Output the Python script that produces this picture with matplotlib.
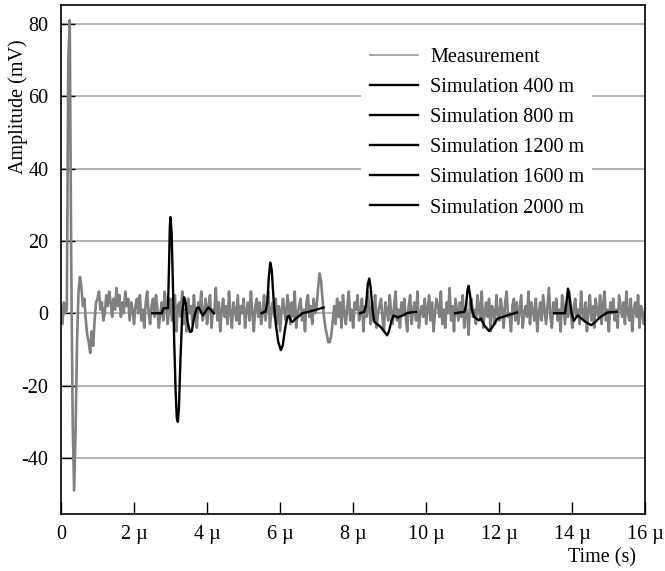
import numpy as np
import matplotlib
matplotlib.use("Agg")
import matplotlib.pyplot as plt

plt.rcParams['font.family'] = ['Liberation Serif', 'DejaVu Serif']
plt.rcParams['axes.unicode_minus'] = False

# measurement, sampled every 0.04 us from 0 to 16 us (values in mV), one row per us
meas_dt = 0.04
meas_mv = [
    2, -3, 3, 0, 1, 70, 81, 15, -30, -49, -32, -8, 6, 10, 7, 2, 4, -2, -6, -8, -11, -5, -9, -2, 3,
    4, 6, 1, 3, -2, 0, 5, 2, 6, 3, -1, 4, 1, 7, 2, 5, -1, 3, 0, 6, 2, 4, -2, 3, 1,
    -3, 2, 4, 0, 5, -2, 1, -4, 3, 6, 0, -3, 2, 4, -1, 5, 1, -4, 0, 3, -2, 6, 2, -3, 1,
    4, -2, 0, 5, -5, 2, 3, -1, 6, -3, 1, -5, 4, 0, 2, -3, 5, -1, -4, 3, 1, 6, -2, 0, 4,
    -3, 2, 5, -4, 1, 0, 7, -2, 3, -5, 1, 4, -1, 2, -3, 6, 0, -4, 3, 1, -2, 5, -3, 2, 0,
    4, -4, 1, 3, -2, 6, 0, -5, 2, 4, -1, 3, -3, 0, 5, -2, 2, 6, -4, 1, 3, -1, 4, -3, 2,
    -5, 1, 4, 0, -2, 5, 2, -3, 3, -1, 6, -4, 0, 2, 4, -2, 1, -5, 3, 5, -1, 2, -3, 4, 0,
    2, 7, 11, 9, 4, -1, -4, -6, -8, -8, -6, -2, 2, -3, 4, -1, 3, -4, 5, 0, -3, 2, 6, -2, 1,
    -4, 3, 1, 5, -2, 0, 4, -5, 2, -1, 6, 1, -3, 3, -2, 5, -4, 0, 2, 4, -1, -5, 3, 1, -2,
    5, 0, -3, 2, 6, -2, 1, -4, 3, 0, 4, -1, -5, 2, 5, -3, 1, 3, -2, 6, -4, 0, 2, -1, 4,
    -3, 1, 5, -2, 3, -5, 0, 4, 2, -1, 6, -3, 1, -4, 3, 0, 7, -2, 2, -5, 4, 1, -2, 3, -1,
    5, -4, 2, 0, -6, 3, 4, -1, 1, -3, 5, 2, -2, 6, -4, 0, 3, -1, 4, -5, 2, 1, -3, 5, 0,
    -2, 4, 1, -4, 3, 6, -1, 0, -5, 2, 4, -2, 3, -3, 1, 5, -4, 0, 2, -1, 6, -3, 3, 1, -2,
    4, -5, 0, 3, -2, 5, 1, -3, 2, 7, -1, -4, 3, 0, 4, -2, 1, -5, 5, 2, -3, 3, -1, 6, 0,
    -4, 2, 4, -1, 1, -3, 6, 0, -2, 3, -5, 1, 5, -2, 2, -4, 4, 0, -1, 5, -3, 2, 6, -2, 1,
    -5, 3, 0, 4, -2, 1, -4, 5, 2, -1, 3, -3, 6, 0, -2, 4, -5, 1, 3, -1, 5, -4, 2, 0, -3,
    2,
]

# simulated pulses (time in us, amplitude in mV)
sim400_t = [2.50, 2.76, 2.80, 2.93, 2.96, 2.98, 3.00, 3.03, 3.06, 3.10, 3.14, 3.17, 3.20,
            3.23, 3.27, 3.32, 3.37, 3.41, 3.47, 3.53, 3.58, 3.65, 3.72, 3.77, 3.83, 3.88,
            3.95, 4.03, 4.10, 4.18]
sim400_mv = [0, 0, 1.4, 1.4, 14, 24, 26.6, 22, 10, -8, -22, -29, -30,
             -26, -13, 0, 4.4, 3, -2.5, -5.2, -5, -1, 1.4, 1.6, 0.4, -0.6,
             0.4, 1.6, 1, 0]

sim800_t = [5.49, 5.60, 5.65, 5.69, 5.73, 5.77, 5.82, 5.88, 5.95, 6.02, 6.07, 6.14, 6.20,
            6.24, 6.30, 6.34, 6.41, 6.48, 6.61, 6.85, 7.00, 7.19]
sim800_mv = [0, 0.5, 3, 10, 14, 12, 4, -3, -8, -10.2, -9, -4, -1,
             -0.7, -2.2, -2.4, -1.6, -1.1, 0, 0.6, 1.0, 1.6]

sim1200_t = [8.19, 8.30, 8.35, 8.40, 8.44, 8.48, 8.53, 8.58, 8.72, 8.79, 8.86, 8.93, 8.98,
             9.05, 9.11, 9.22, 9.36, 9.49, 9.72]
sim1200_mv = [0, 0.4, 2, 8, 9.6, 7, 1, -2.4, -3.5, -4.2, -5.2, -6.1, -5,
              -2, -0.6, -1.2, -0.6, 0.1, 0.4]

sim1600_t = [10.79, 11.04, 11.09, 11.13, 11.16, 11.20, 11.25, 11.31, 11.43, 11.50, 11.60,
             11.72, 11.80, 11.95, 12.22, 12.48]
sim1600_mv = [0, 0.4, 2, 6.5, 7.6, 5, 1, -1.0, -1.9, -1.5, -3.5,
              -4.9, -4, -1.5, -0.6, 0.2]

sim2000_t = [13.50, 13.80, 13.84, 13.88, 13.92, 13.98, 14.04, 14.10, 14.15, 14.25, 14.36,
             14.52, 14.65, 14.77, 14.96, 15.21]
sim2000_mv = [0, 0, 3, 6.8, 4.5, 0, -2.1, -1.2, -0.6, -1.5, -2.4,
              -3.3, -2.2, -1.0, 0.2, 0.4]

sim_labels = ["Simulation 400 m", "Simulation 800 m", "Simulation 1200 m",
              "Simulation 1600 m", "Simulation 2000 m"]

xticks = [0, 2, 4, 6, 8, 10, 12, 14, 16]
xtick_labels = ["0", "2 µ", "4 µ", "6 µ", "8 µ", "10 µ", "12 µ", "14 µ", "16 µ"]
yticks = [-40, -20, 0, 20, 40, 60, 80]

fig = plt.figure(figsize=(6.65, 5.71), dpi=100)
ax = fig.add_axes([0.0917, 0.0998, 0.8788, 0.8914])

meas_t = np.arange(len(meas_mv)) * meas_dt
ax.plot(meas_t, meas_mv, color="#808080", lw=1.9, label="Measurement", zorder=2)
sims = [(sim400_t, sim400_mv), (sim800_t, sim800_mv), (sim1200_t, sim1200_mv),
        (sim1600_t, sim1600_mv), (sim2000_t, sim2000_mv)]
for (t, v), lab in zip(sims, sim_labels):
    ax.plot(t, v, color="black", lw=1.7, label=lab, zorder=3)

ax.set_xlim(0, 16)
ax.set_ylim(-55.5, 85.2)
ax.set_xticks(xticks)
ax.set_xticklabels(xtick_labels)
ax.set_yticks(yticks)
ax.yaxis.grid(True, color="#a0a0a0", lw=1.1)
ax.set_axisbelow(True)
ax.tick_params(axis="x", direction="in", length=9, width=1, labelsize=14.5, pad=8)
ax.tick_params(axis="y", direction="in", length=10, width=1, labelsize=14.5, pad=9)
for s in ax.spines.values():
    s.set_linewidth(1.2)

ax.set_ylabel("Amplitude (mV)", fontsize=14.5)
ax.yaxis.set_label_coords(-0.056, 0.80)
ax.set_xlabel("Time (s)", fontsize=14.5)
ax.xaxis.set_label_coords(0.925, -0.068)

leg = ax.legend(loc="upper left", bbox_to_anchor=(0.497, 0.952), fontsize=14.5,
                handlelength=2.4, handletextpad=0.6, labelspacing=0.55,
                borderpad=0.4, frameon=True, fancybox=False)
leg.get_frame().set_edgecolor("none")
leg.get_frame().set_facecolor("white")
leg.get_frame().set_alpha(1)
leg.legend_handles[0].set_linewidth(1.2)
leg.legend_handles[0].set_color("#999999")

fig.savefig("out.png", dpi=100)
